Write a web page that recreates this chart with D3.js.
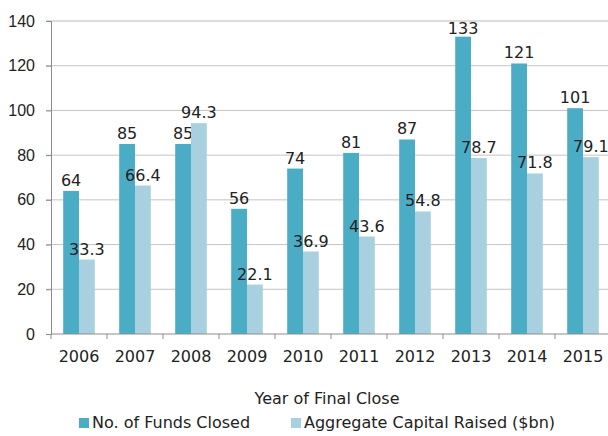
<!DOCTYPE html>
<html>
<head>
<meta charset="utf-8">
<script src="https://cdn.jsdelivr.net/npm/d3@7"></script>
<style>
  body { margin: 0; background: #fff; }
  svg { display: block; font-family: "DejaVu Sans", sans-serif; }
</style>
</head>
<body>
<script>
// data
let years = ['2006', '2007', '2008', '2009', '2010', '2011', '2012', '2013', '2014', '2015']
let fundsClosed = [64, 85, 85, 56, 74, 81, 87, 133, 121, 101]
let capitalRaised = [33.3, 66.4, 94.3, 22.1, 36.9, 43.6, 54.8, 78.7, 71.8, 79.1]
let yTicks = [0, 20, 40, 60, 80, 100, 120, 140]
let seriesNames = ['No. of Funds Closed', 'Aggregate Capital Raised ($bn)']
let colors = ['#4bacc6', '#a9d0de']

let W = 608, H = 436
let margin = { top: 21, left: 51, bottom: 102 }
let fs = 16
let svg = d3.select('body').append('svg').attr('width', W).attr('height', H)

let x = d3.scaleBand().domain(years).range([margin.left, margin.left + 560])
let y = d3.scaleLinear().domain([0, 140]).range([H - margin.bottom, margin.top])
let barW = 15.8

// gridlines
svg.append('g').selectAll('line').data(yTicks.slice(1)).enter().append('line')
    .attr('x1', margin.left - 5).attr('x2', W)
    .attr('y1', d => y(d)).attr('y2', d => y(d))
    .attr('stroke', d => d === 140 ? '#dcdcdc' : '#c4c4c4')
    .attr('stroke-width', d => d === 140 ? 2 : 1)

// bars
let series = [fundsClosed, capitalRaised]
series.forEach((vals, s) => {
    let g = svg.append('g')
    let cx = (d, i) => x(years[i]) + x.bandwidth() / 2 + (s === 0 ? -barW : 0)
    g.selectAll('rect').data(vals).enter().append('rect')
        .attr('x', cx).attr('y', d => y(d))
        .attr('width', barW).attr('height', d => y(0) - y(d))
        .attr('fill', colors[s])
    g.selectAll('text').data(vals).enter().append('text')
        .attr('x', (d, i) => cx(d, i) + barW / 2)
        .attr('y', d => Math.max(y(d) - 5, 34))
        .attr('text-anchor', 'middle')
        .attr('font-size', fs).attr('fill', '#222')
        .text(d => s === 0 ? d : d.toFixed(1))
})

// y axis
let yAxis = d3.axisLeft(y).tickValues(yTicks).tickSize(5).tickPadding(11)
let gy = svg.append('g').attr('transform', `translate(${margin.left},0)`).call(yAxis)
gy.select('.domain').attr('stroke', '#8c8c8c')
gy.selectAll('.tick line').attr('stroke', '#8c8c8c')
gy.selectAll('text').attr('font-size', fs).attr('fill', '#222').attr('font-family', null)

// x axis
let gx = svg.append('g').attr('transform', `translate(0,${y(0)})`)
gx.append('line').attr('x1', margin.left).attr('x2', W).attr('stroke', '#8c8c8c')
gx.selectAll('line.tk').data(years).enter().append('line').attr('class', 'tk')
    .attr('x1', d => x(d)).attr('x2', d => x(d)).attr('y1', 0).attr('y2', 5)
    .attr('stroke', '#8c8c8c')
gx.selectAll('text').data(years).enter().append('text')
    .attr('x', d => x(d) + x.bandwidth() / 2).attr('y', 28)
    .attr('text-anchor', 'middle').attr('font-size', fs).attr('fill', '#222')
    .text(d => d)

// axis title
svg.append('text').attr('x', 327).attr('y', 404).attr('text-anchor', 'middle')
    .attr('font-size', fs).attr('fill', '#222').text('Year of Final Close')

// legend
let legX = [79, 291]
seriesNames.forEach((n, i) => {
    svg.append('rect').attr('x', legX[i]).attr('y', 418).attr('width', 10).attr('height', 10)
        .attr('fill', colors[i])
    svg.append('text').attr('x', legX[i] + 13).attr('y', 428).attr('font-size', fs)
        .attr('fill', '#222').text(n)
})
</script>
</body>
</html>
